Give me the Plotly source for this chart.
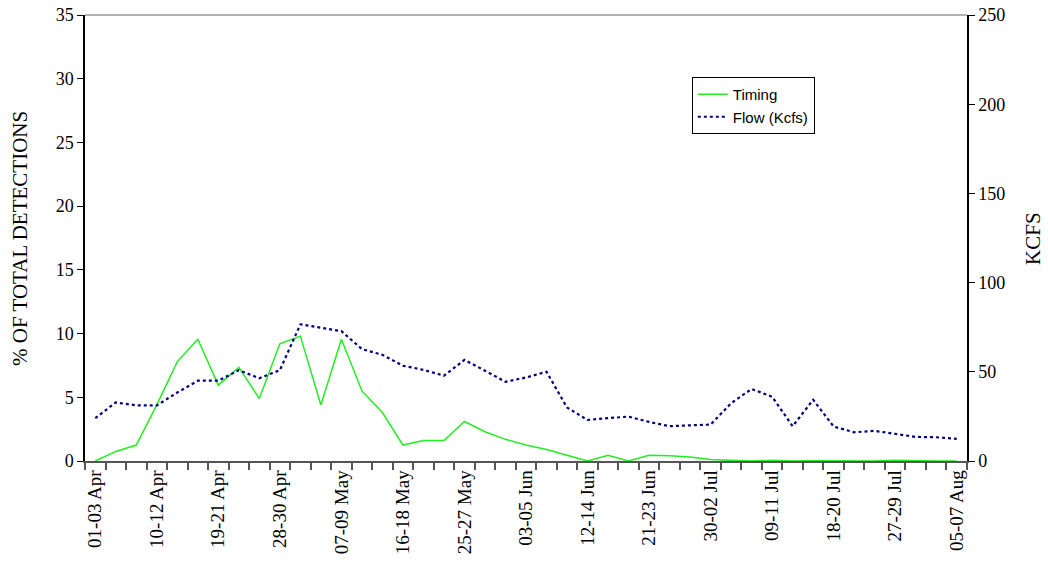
import plotly.graph_objects as go

periods = [
    "01-03 Apr", "04-06 Apr", "07-09 Apr", "10-12 Apr", "13-15 Apr", "16-18 Apr",
    "19-21 Apr", "22-24 Apr", "25-27 Apr", "28-30 Apr", "01-03 May", "04-06 May",
    "07-09 May", "10-12 May", "13-15 May", "16-18 May", "19-21 May", "22-24 May",
    "25-27 May", "28-30 May", "31-02 Jun", "03-05 Jun", "06-08 Jun", "09-11 Jun",
    "12-14 Jun", "15-17 Jun", "18-20 Jun", "21-23 Jun", "24-26 Jun", "27-29 Jun",
    "30-02 Jul", "03-05 Jul", "06-08 Jul", "09-11 Jul", "12-14 Jul", "15-17 Jul",
    "18-20 Jul", "21-23 Jul", "24-26 Jul", "27-29 Jul", "30-01 Aug", "02-04 Aug",
    "05-07 Aug",
]

tick_labels = [
    "01-03 Apr", "10-12 Apr", "19-21 Apr", "28-30 Apr", "07-09 May", "16-18 May",
    "25-27 May", "03-05 Jun", "12-14 Jun", "21-23 Jun", "30-02 Jul", "09-11 Jul",
    "18-20 Jul", "27-29 Jul", "05-07 Aug",
]

timing = [
    0.0, 0.75, 1.25, 4.4, 7.8, 9.55, 5.95, 7.35, 4.9, 9.2, 9.8, 4.4,
    9.55, 5.5, 3.8, 1.25, 1.6, 1.6, 3.1, 2.3, 1.7, 1.25, 0.9, 0.45,
    0.0, 0.45, 0.0, 0.45, 0.42, 0.32, 0.12, 0.05, 0.0, 0.05, 0.0, 0.02,
    0.0, 0.0, 0.0, 0.05, 0.0, 0.0, 0.0,
]

flow = [
    24.0, 32.8, 31.2, 31.1, 38.4, 45.0, 45.0, 50.9, 46.4, 50.9, 76.6, 74.9,
    72.8, 62.7, 59.5, 53.4, 51.1, 47.8, 56.7, 50.6, 44.4, 46.8, 50.0, 30.0,
    23.0, 24.0, 24.9, 21.9, 19.5, 20.0, 20.4, 32.4, 40.4, 36.0, 19.5, 34.3,
    19.3, 16.1, 16.9, 15.2, 13.5, 13.3, 12.4,
]

x_idx = list(range(len(periods)))
tick_idx = [periods.index(t) for t in tick_labels]

fig = go.Figure()
fig.add_trace(go.Scatter(
    x=x_idx, y=timing, name="Timing", mode="lines",
    line=dict(color="#22ee22", width=1.5),
))
fig.add_trace(go.Scatter(
    x=x_idx, y=flow, name="Flow (Kcfs)", mode="lines", yaxis="y2",
    line=dict(color="#000080", width=2.2, dash="dot"),
))

serif = "Liberation Serif, Times New Roman, serif"
fig.update_layout(
    width=1048, height=565,
    margin=dict(l=85, r=81, t=15, b=104),
    paper_bgcolor="white", plot_bgcolor="white",
    showlegend=True,
    legend=dict(
        x=0.688, y=0.861, xanchor="left", yanchor="top",
        bgcolor="white", bordercolor="black", borderwidth=1,
        font=dict(family="Liberation Sans, Arial, sans-serif", size=15, color="black"),
        tracegroupgap=0,
    ),
    xaxis=dict(
        range=[-0.5, len(periods) - 0.5], automargin=False,
        tickmode="array", tickvals=tick_idx, ticktext=tick_labels,
        tickangle=-90, ticks="", showgrid=False, zeroline=False,
        showline=True, linecolor="#555555", linewidth=1.5,
        tickfont=dict(family=serif, size=19, color="black"),
        ticklabeloverflow="allow",
        minor=dict(tick0=-0.5, dtick=1, ticks="outside", ticklen=7,
                   tickcolor="#555555", tickwidth=1.5, showgrid=False),
    ),
    yaxis=dict(
        range=[0, 35], dtick=5, ticks="outside", ticklen=6, tickcolor="black",
        automargin=False, ticklabeloverflow="allow",
        showgrid=False, zeroline=False, showline=True, linecolor="black", linewidth=1.5,
        tickfont=dict(family=serif, size=18, color="black"),
    ),
    yaxis2=dict(
        range=[0, 250], dtick=50, ticks="outside", ticklen=6, tickcolor="black",
        overlaying="y", side="right", automargin=False, ticklabeloverflow="allow",
        showgrid=False, zeroline=False, showline=True, linecolor="black", linewidth=1.5,
        tickfont=dict(family=serif, size=18, color="black"),
    ),
    annotations=[
        dict(text="% OF TOTAL DETECTIONS", xref="paper", yref="paper",
             x=-0.0737, y=0.5, textangle=-90, showarrow=False,
             xanchor="center", yanchor="middle",
             font=dict(family=serif, size=21, color="black")),
        dict(text="KCFS", xref="paper", yref="paper",
             x=1.0748, y=0.5, textangle=-90, showarrow=False,
             xanchor="center", yanchor="middle",
             font=dict(family=serif, size=21, color="black")),
    ],
)

fig.add_shape(type="line", xref="paper", yref="paper", x0=0, x1=1, y0=1, y1=1,
              line=dict(color="#999999", width=1.5))

# remove the browser's default 8px body margin so the figure sits at the page origin
fig.write_html("out.html", config={"displayModeBar": False},
               post_script="document.body.style.margin='0';")
